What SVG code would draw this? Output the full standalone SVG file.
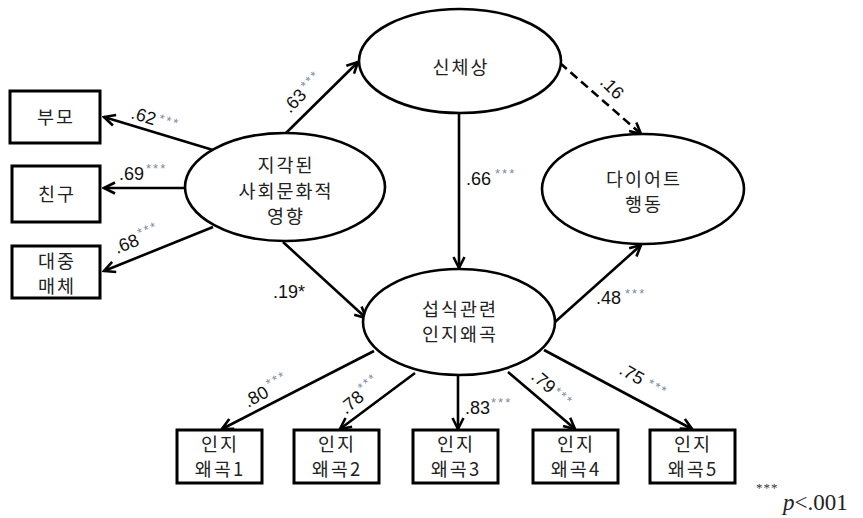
<svg xmlns="http://www.w3.org/2000/svg" width="863" height="518" viewBox="0 0 863 518">
<style>
.node{fill:#fff;stroke:#000;stroke-width:2.6}
.box{fill:#fff;stroke:#000;stroke-width:3}
.t{font-family:"Noto Sans CJK KR","Noto Sans",sans-serif;font-size:18.5px;fill:#222;text-anchor:middle;letter-spacing:2px}
.n{font-family:"Liberation Sans",Arial,sans-serif;font-size:18px;fill:#111}
.s{font-size:13px;fill:#7d8ba3;letter-spacing:2px}
.c{fill:none;stroke:#000;stroke-width:2.6}
.d{stroke-dasharray:9 5}
</style>
<defs>
<marker id="ah" markerUnits="userSpaceOnUse" viewBox="0 0 14 14" refX="12" refY="7" markerWidth="14" markerHeight="14" orient="auto">
<path d="M1,1.5 L12,7 L1,12.5" fill="none" stroke="#000" stroke-width="2.6"/>
</marker>
</defs>
<g id="connectors">
<line class="c" x1="213" y1="150" x2="104" y2="117" marker-end="url(#ah)"/>
<line class="c" x1="185" y1="188" x2="104" y2="188" marker-end="url(#ah)"/>
<line class="c" x1="213" y1="227" x2="104" y2="271" marker-end="url(#ah)"/>
<line class="c" x1="286" y1="133" x2="358" y2="62" marker-end="url(#ah)"/>
<line class="c" x1="283" y1="242" x2="366" y2="318" marker-end="url(#ah)"/>
<line class="c" x1="459" y1="113" x2="459" y2="268" marker-end="url(#ah)"/>
<line class="c d" x1="560" y1="63" x2="641" y2="134" marker-end="url(#ah)"/>
<line class="c" x1="555" y1="322" x2="641" y2="245" marker-end="url(#ah)"/>
<line class="c" x1="374" y1="351" x2="222" y2="429" marker-end="url(#ah)"/>
<line class="c" x1="415" y1="373" x2="340" y2="429" marker-end="url(#ah)"/>
<line class="c" x1="458" y1="375" x2="458" y2="429" marker-end="url(#ah)"/>
<line class="c" x1="508" y1="372" x2="575" y2="429" marker-end="url(#ah)"/>
<line class="c" x1="544" y1="350" x2="692" y2="429" marker-end="url(#ah)"/>
</g>
<g id="labels">
<text class="n" transform="translate(130,118) rotate(17)">.62<tspan class="s" dx="3" dy="-4">***</tspan></text>
<text class="n" x="119" y="180">.69<tspan class="s" dx="2" dy="-7">***</tspan></text>
<text class="n" transform="translate(117,254) rotate(-22)">.68<tspan class="s" dx="2" dy="-7">***</tspan></text>
<text class="n" transform="translate(290,114) rotate(-46)">.63<tspan class="s" dx="3" dy="-5">***</tspan></text>
<text class="n" transform="translate(599,83) rotate(45)">.16</text>
<text class="n" x="466" y="185">.66<tspan class="s" dx="4" dy="-7">***</tspan></text>
<text class="n" x="596" y="304">.48<tspan class="s" dx="4" dy="-6">***</tspan></text>
<text class="n" x="273" y="298">.19*</text>
<text class="n" transform="translate(248,408) rotate(-29)">.80<tspan class="s" dx="3" dy="-7">***</tspan></text>
<text class="n" transform="translate(346,415) rotate(-40)">.78<tspan class="s" dx="2" dy="-7">***</tspan></text>
<text class="n" x="465" y="414">.83<tspan class="s" dx="1" dy="-7">***</tspan></text>
<text class="n" transform="translate(530,378) rotate(40)">.79<tspan class="s" dx="2" dy="-3">***</tspan></text>
<text class="n" transform="translate(618,373) rotate(30)">.75<tspan class="s" dx="6" dy="-3">***</tspan></text>
</g>
<g id="n-body">
<ellipse class="node" cx="460" cy="61" rx="101" ry="52"/>
<text class="t" x="461" y="74">신체상</text>
</g>
<g id="n-social">
<ellipse class="node" cx="285" cy="187" rx="100" ry="54"/>
<text class="t" x="286" y="172">지각된</text>
<text class="t" x="286" y="198">사회문화적</text>
<text class="t" x="286" y="223">영향</text>
</g>
<g id="n-diet">
<ellipse class="node" cx="643" cy="189" rx="101" ry="55"/>
<text class="t" x="644" y="186">다이어트</text>
<text class="t" x="644" y="211">행동</text>
</g>
<g id="n-cog">
<ellipse class="node" cx="459" cy="322" rx="96" ry="53"/>
<text class="t" x="460" y="316">섭식관련</text>
<text class="t" x="460" y="341">인지왜곡</text>
</g>
<g id="b-parent">
<rect class="box" x="10" y="91" width="90" height="52"/>
<text class="t" x="56" y="124">부모</text>
</g>
<g id="b-friend">
<rect class="box" x="12" y="166" width="88" height="56"/>
<text class="t" x="57" y="201">친구</text>
</g>
<g id="b-media">
<rect class="box" x="12" y="246" width="88" height="52"/>
<text class="t" x="57" y="268">대중</text>
<text class="t" x="57" y="293">매체</text>
</g>
<g id="b-c1">
<rect class="box" x="177" y="430" width="85" height="53"/>
<text class="t" x="220" y="451">인지</text>
<text class="t" x="220" y="476">왜곡1</text>
</g>
<g id="b-c2">
<rect class="box" x="294" y="430" width="85" height="53"/>
<text class="t" x="337" y="451">인지</text>
<text class="t" x="337" y="476">왜곡2</text>
</g>
<g id="b-c3">
<rect class="box" x="413" y="430" width="85" height="53"/>
<text class="t" x="456" y="451">인지</text>
<text class="t" x="456" y="476">왜곡3</text>
</g>
<g id="b-c4">
<rect class="box" x="533" y="430" width="85" height="53"/>
<text class="t" x="576" y="451">인지</text>
<text class="t" x="576" y="476">왜곡4</text>
</g>
<g id="b-c5">
<rect class="box" x="650" y="430" width="85" height="53"/>
<text class="t" x="693" y="451">인지</text>
<text class="t" x="693" y="476">왜곡5</text>
</g>
<g id="note">
<text x="756" y="492" font-family="Liberation Serif,serif" font-size="13" fill="#333" letter-spacing="1">***</text>
<text x="783" y="510" font-family="Liberation Serif,serif" font-size="23" fill="#222"><tspan font-style="italic">p</tspan>&lt;.001</text>
</g>
</svg>
